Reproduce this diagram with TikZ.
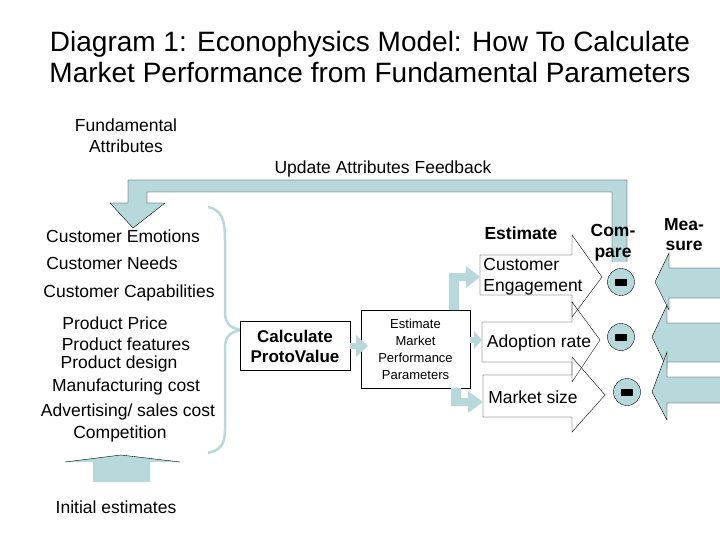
\documentclass[tikz,border=0pt]{standalone}
\usepackage{fontspec}
\setmainfont{Liberation Sans}
\begin{document}
\begin{tikzpicture}[x=1pt,y=-1pt,
  txt/.style={font=\fontsize{17.5}{20}\selectfont,align=center,inner sep=0pt},
  bx/.style={draw,thin,fill=white,align=center,inner sep=0pt}]
\definecolor{cb}{HTML}{B7D9DC}
\useasboundingbox (0,0) rectangle (720,540);
\node[align=center,font=\fontsize{28}{31}\selectfont] (title) at (370,57) {Diagram 1: Econophysics Model: How To Calculate\\Market Performance from Fundamental Parameters};
\node[txt,font=\fontsize{17.5}{21}\selectfont] (fa) at (126,136) {Fundamental\\Attributes};
\node[txt] (upd) at (383,169) {Update Attributes Feedback};
% feedback arrow
\fill[cb] (128,180) -- (627,180) -- (627,262) -- (612,262) -- (612,192) -- (147,192) -- (147,203) -- (165,203) -- (133,228) -- (110,203) -- (128,203) -- cycle;
\draw (612,262) -- (612,192) -- (147,192) -- (147,203) -- (165,203) -- (133,228) -- (110,203) -- (128,203) -- (128,180) -- (627,180) -- (627,262);
% left list
\node[txt] (ce) at (123,236) {Customer Emotions};
\node[txt] (cn) at (112,263) {Customer Needs};
\node[txt] (cc) at (129,293) {Customer Capabilities};
\node[txt] (pp) at (115,323) {Product Price};
\node[txt] (pf) at (126,344) {Product features};
\node[txt] (pd) at (119,364) {Product design};
\node[txt] (mc) at (126,387) {Manufacturing cost};
\node[txt] (ac) at (128,412) {Advertising/ sales cost};
\node[txt] (co) at (120,434) {Competition};
% brace
\draw[cb,line width=2.5pt] (208,207) .. controls (222,210) and (225,220) .. (225,240) -- (225,312) .. controls (225,325) and (232,329) .. (243,330) .. controls (232,331) and (225,335) .. (225,348) -- (225,430) .. controls (225,445) and (220,450) .. (208,453);
% initial estimates arrow
\fill[cb] (93,482) -- (93,462) -- (65,462) -- (121,455) -- (180,462) -- (150,462) -- (150,482) -- cycle;
\draw (65,462) -- (121,455) -- (180,462);
\node[txt] (ie) at (116,507) {Initial estimates};
% boxes
\node[bx,minimum width=110,minimum height=49,font=\bfseries\fontsize{17}{20}\selectfont] (cp) at (295,346) {Calculate\\ProtoValue};
\node[bx,minimum width=109,minimum height=78,font=\fontsize{13}{17}\selectfont] (em) at (415.5,349) {Estimate\\Market\\Performance\\Parameters};
\fill[cb] (cp.east) ++(0,-3) rectangle ++(6,6);
\fill[cb] (356,339) -- (356,335) -- (368,346) -- (356,357) -- (356,353) -- cycle;
% estimate arrows (outline)
\node[txt,font=\bfseries\fontsize{17.5}{20}\selectfont] (est) at (521,233) {Estimate};
\draw (480,255) -- (572,255) -- (572,235) -- (602,277) -- (572,317) -- (572,295) -- (480,295) -- cycle;
\draw (482,322) -- (572,322) -- (572,302) -- (600,340) -- (572,382) -- (572,362) -- (482,362) -- cycle;
\draw (483,375) -- (572,375) -- (572,357) -- (605,395) -- (572,432) -- (572,417) -- (483,417) -- cycle;
\node[txt,align=left,font=\fontsize{17.5}{21}\selectfont] (eng) at (533,277) {Customer\\Engagement};
\node[txt] (ad) at (539,343) {Adoption rate};
\node[txt] (ms) at (533,397) {Market size};
% small arrows
\fill[cb] (449,310) -- (449,273) -- (466,273) -- (466,266) -- (480,277) -- (466,288) -- (466,281) -- (459,281) -- (459,310) -- cycle;
\fill[cb] (470,337) -- (470,343) -- (474,343) -- (474,349) -- (482,340) -- (474,331) -- (474,337) -- cycle;
\fill[cb] (451,388) -- (451,406) -- (468,406) -- (468,413) -- (483,402) -- (468,391) -- (468,398) -- (461,398) -- (461,388) -- cycle;
% compare
\node[txt,font=\bfseries\fontsize{17.5}{21}\selectfont] (cmp) at (613,243) {Com-\\pare};
\foreach \n/\x/\y in {c1/621/282,c2/621/337,c3/627/392}{
  \node[circle,draw,fill=cb,minimum size=27,inner sep=0pt] (\n) at (\x,\y) {};
  \fill (\x-6,\y-3) rectangle (\x+6,\y+4);
}
% measure
\node[txt,font=\bfseries\fontsize{17.5}{20}\selectfont] (mea) at (684,235) {Mea-\\sure};
\filldraw[fill=cb,draw=black,thin] (720,268) -- (669,268) -- (669,253) -- (655,282) -- (669,310) -- (669,298) -- (720,298);
\filldraw[fill=cb,draw=black,thin] (720,323) -- (667,323) -- (667,305) -- (652,337) -- (667,368) -- (667,362) -- (720,362);
\filldraw[fill=cb,draw=black,thin] (720,377) -- (667,377) -- (667,352) -- (652,392) -- (667,420) -- (667,403) -- (720,403);
\end{tikzpicture}
\end{document}
